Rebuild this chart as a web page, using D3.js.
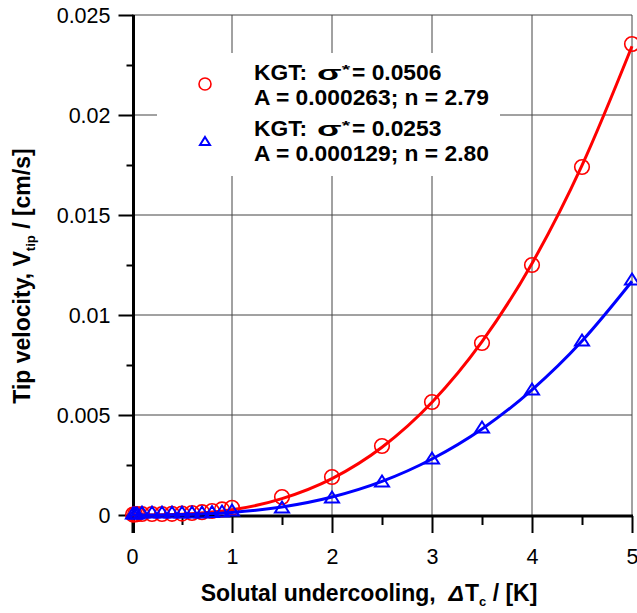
<!DOCTYPE html>
<html>
<head>
<meta charset="utf-8">
<script src="https://cdn.jsdelivr.net/npm/d3@7"></script>
<style>
body { margin: 0; background: #fff; }
text { font-family: "Liberation Sans", Arial, sans-serif; }
</style>
</head>
<body>
<div id="chart"></div>
<script>
// axis ticks
var xTicks = [0, 1, 2, 3, 4, 5];
var xMinor = [0.5, 1.5, 2.5, 3.5, 4.5];
var yTicks = [0, 0.005, 0.01, 0.015, 0.02, 0.025];
var yTickLabels = ["0", "0.005", "0.01", "0.015", "0.02", "0.025"];
var yMinor = [0.0025, 0.0075, 0.0125, 0.0175, 0.0225];

// measured points (KGT sigma* = 0.0506, red circles)
var redX = [0.01, 0.03, 0.05, 0.1, 0.2, 0.3, 0.4, 0.5, 0.6, 0.7, 0.8, 0.9, 1.0, 1.5, 2, 2.5, 3, 3.5, 4, 4.5, 5];
var redV = [0.00002, 0.00003, 0.00004, 0.00005, 0.00005, 0.00005, 0.00006, 0.00007, 0.0001, 0.00014, 0.0002, 0.00028, 0.00036,
            0.0009, 0.0019, 0.00345, 0.00565, 0.0086, 0.0125, 0.0174, 0.02355];

// measured points (KGT sigma* = 0.0253, blue triangles)
var blueX = [0.01, 0.03, 0.05, 0.1, 0.2, 0.3, 0.4, 0.5, 0.6, 0.7, 0.8, 0.9, 1.0, 1.5, 2, 2.5, 3, 3.5, 4, 4.5, 5];
var blueV = [0.0001, 0.0001, 0.0001, 0.00015, 0.00015, 0.00015, 0.00015, 0.00015, 0.00015, 0.00015, 0.00017, 0.0002, 0.00025,
             0.0004, 0.0009, 0.0017, 0.00285, 0.0044, 0.0063, 0.00875, 0.0118];

// fitted curves
var fitX = [0, 0.25, 0.5, 0.75, 1, 1.5, 2, 2.5, 3, 3.5, 4, 4.5, 5];
var redFit = [0, 0.000004, 0.000038, 0.00012, 0.00026, 0.00082, 0.00182, 0.00339, 0.00564, 0.00867, 0.01258, 0.01748, 0.02344];
var blueFit = [0, 0.000002, 0.000019, 0.00006, 0.00013, 0.0004, 0.0009, 0.00168, 0.0028, 0.0043, 0.00626, 0.0087, 0.01169];

// legend
var legSigma = ["0.0506", "0.0253"];
var legA = ["0.000263", "0.000129"];
var legN = ["2.79", "2.80"];
var colors = ["#ff0000", "#0000ff"];

var W = 637, H = 613;
var svg = d3.select("#chart").append("svg")
  .attr("width", W).attr("height", H);

var x = d3.scaleLinear().domain([0, 5]).range([132, 632]);
var y = d3.scaleLinear().domain([0, 0.025]).range([515, 15]);

// grid
var grid = svg.append("g").attr("stroke", "#444").attr("stroke-width", 1);
grid.selectAll("line.v").data(xTicks.slice(1)).enter().append("line")
  .attr("class", "v")
  .attr("x1", function(d) { return x(d); }).attr("x2", function(d) { return x(d); })
  .attr("y1", y(0.025)).attr("y2", y(0));
grid.selectAll("line.h").data(yTicks.slice(1)).enter().append("line")
  .attr("class", "h")
  .attr("x1", x(0)).attr("x2", x(5))
  .attr("y1", function(d) { return y(d); }).attr("y2", function(d) { return y(d); });

// legend background hides the grid
svg.append("rect").attr("x", 157).attr("y", 53).attr("width", 343).attr("height", 123).attr("fill", "#fff");

// axes
var xMaj = svg.append("g").attr("transform", "translate(0,516)")
  .call(d3.axisBottom(x).tickValues(xTicks).tickSize(17).tickSizeOuter(0).tickFormat(d3.format("d")));
var xMin = svg.append("g").attr("transform", "translate(0,516)")
  .call(d3.axisBottom(x).tickValues(xMinor).tickSize(9).tickSizeOuter(0).tickFormat(""));
var yMaj = svg.append("g").attr("transform", "translate(133.5,0)")
  .call(d3.axisLeft(y).tickValues(yTicks).tickSize(15).tickSizeOuter(0)
    .tickFormat(function(d, i) { return yTickLabels[i]; }));
var yMin = svg.append("g").attr("transform", "translate(133.5,0)")
  .call(d3.axisLeft(y).tickValues(yMinor).tickSize(7).tickSizeOuter(0).tickFormat(""));

[xMaj, xMin, yMaj, yMin].forEach(function(g) {
  g.select(".domain").attr("stroke", "#000").attr("stroke-width", 3);
  g.selectAll(".tick line").attr("stroke", "#000").attr("stroke-width", 2);
});
yMaj.select(".domain").attr("d", "M0,15V533");
yMin.select(".domain").remove();
xMin.select(".domain").remove();
xMaj.select(".domain").attr("d", "M132,0H633");
xMaj.selectAll(".tick text").attr("font-size", 21.5).attr("fill", "#000")
  .attr("y", 0).attr("dy", 0).attr("transform", "translate(0,48)")
  .style("font-family", "'Liberation Sans', Arial, sans-serif");
yMaj.selectAll(".tick text").attr("font-size", 21.5).attr("fill", "#000")
  .attr("x", -23).attr("dy", "0.36em")
  .style("font-family", "'Liberation Sans', Arial, sans-serif");

// axis titles
var xt = svg.append("text").attr("x", 369).attr("y", 601).attr("text-anchor", "middle")
  .attr("font-size", 23).attr("font-weight", "bold");
xt.append("tspan").text("Solutal undercooling,\u00a0\u00a0");
xt.append("tspan").attr("font-style", "italic").text("\u0394");
xt.append("tspan").attr("dx", 1).text("T");
xt.append("tspan").attr("font-size", 13).attr("dy", 5).text("c");
xt.append("tspan").attr("dy", -5).text(" / [K]");

var yt = svg.append("text").attr("transform", "translate(30,276) rotate(-90)")
  .attr("text-anchor", "middle").attr("font-size", 23).attr("font-weight", "bold");
yt.append("tspan").text("Tip velocity, V");
yt.append("tspan").attr("font-size", 13).attr("dy", 5).text("tip");
yt.append("tspan").attr("dy", -5).text(" / [cm/s]");

// curves
var line = function(vals) {
  return d3.line()
    .x(function(d, i) { return x(fitX[i]); })
    .y(function(d) { return y(d); })
    .curve(d3.curveMonotoneX)(vals);
};
var tri = function(w, h) {
  return "M0," + (-h / 2) + "L" + (w / 2) + "," + (h / 2) + "L" + (-w / 2) + "," + (h / 2) + "Z";
};

svg.append("path").attr("d", line(redFit)).attr("fill", "none")
  .attr("stroke", colors[0]).attr("stroke-width", 3);
svg.append("g").selectAll("circle").data(redV).enter().append("circle")
  .attr("cx", function(d, i) { return x(redX[i]); })
  .attr("cy", function(d) { return y(d); })
  .attr("r", 7.3)
  .attr("fill", "none").attr("stroke", colors[0]).attr("stroke-width", 1.6);

svg.append("path").attr("d", line(blueFit)).attr("fill", "none")
  .attr("stroke", colors[1]).attr("stroke-width", 3);
svg.append("g").selectAll("path").data(blueV).enter().append("path")
  .attr("transform", function(d, i) { return "translate(" + x(blueX[i]) + "," + y(d) + ")"; })
  .attr("d", tri(14, 11))
  .attr("fill", "none").attr("stroke", colors[1]).attr("stroke-width", 2);

// legend
var leg = svg.append("g").attr("font-weight", "bold").attr("font-size", 22.8);
leg.append("circle").attr("cx", 205).attr("cy", 84).attr("r", 6)
  .attr("fill", "none").attr("stroke", colors[0]).attr("stroke-width", 1.6);
leg.append("path").attr("transform", "translate(205,141)").attr("d", tri(10, 8))
  .attr("fill", "none").attr("stroke", colors[1]).attr("stroke-width", 2);

legSigma.forEach(function(s, i) {
  var b = 80 + i * 56;
  leg.append("text").attr("x", 254).attr("y", b).text("KGT:");
  var sg = leg.append("text").attr("transform", "translate(317," + b + ") scale(1.8,1)");
  sg.append("tspan").attr("font-size", 20).text("\u03c3");
  sg.append("tspan").attr("font-size", 12).attr("dy", -6).text("*");
  leg.append("text").attr("x", 352).attr("y", b).text("= " + s);
  leg.append("text").attr("x", 254).attr("y", b + 25)
    .text("A = " + legA[i] + "; n = " + legN[i]);
});
</script>
</body>
</html>
